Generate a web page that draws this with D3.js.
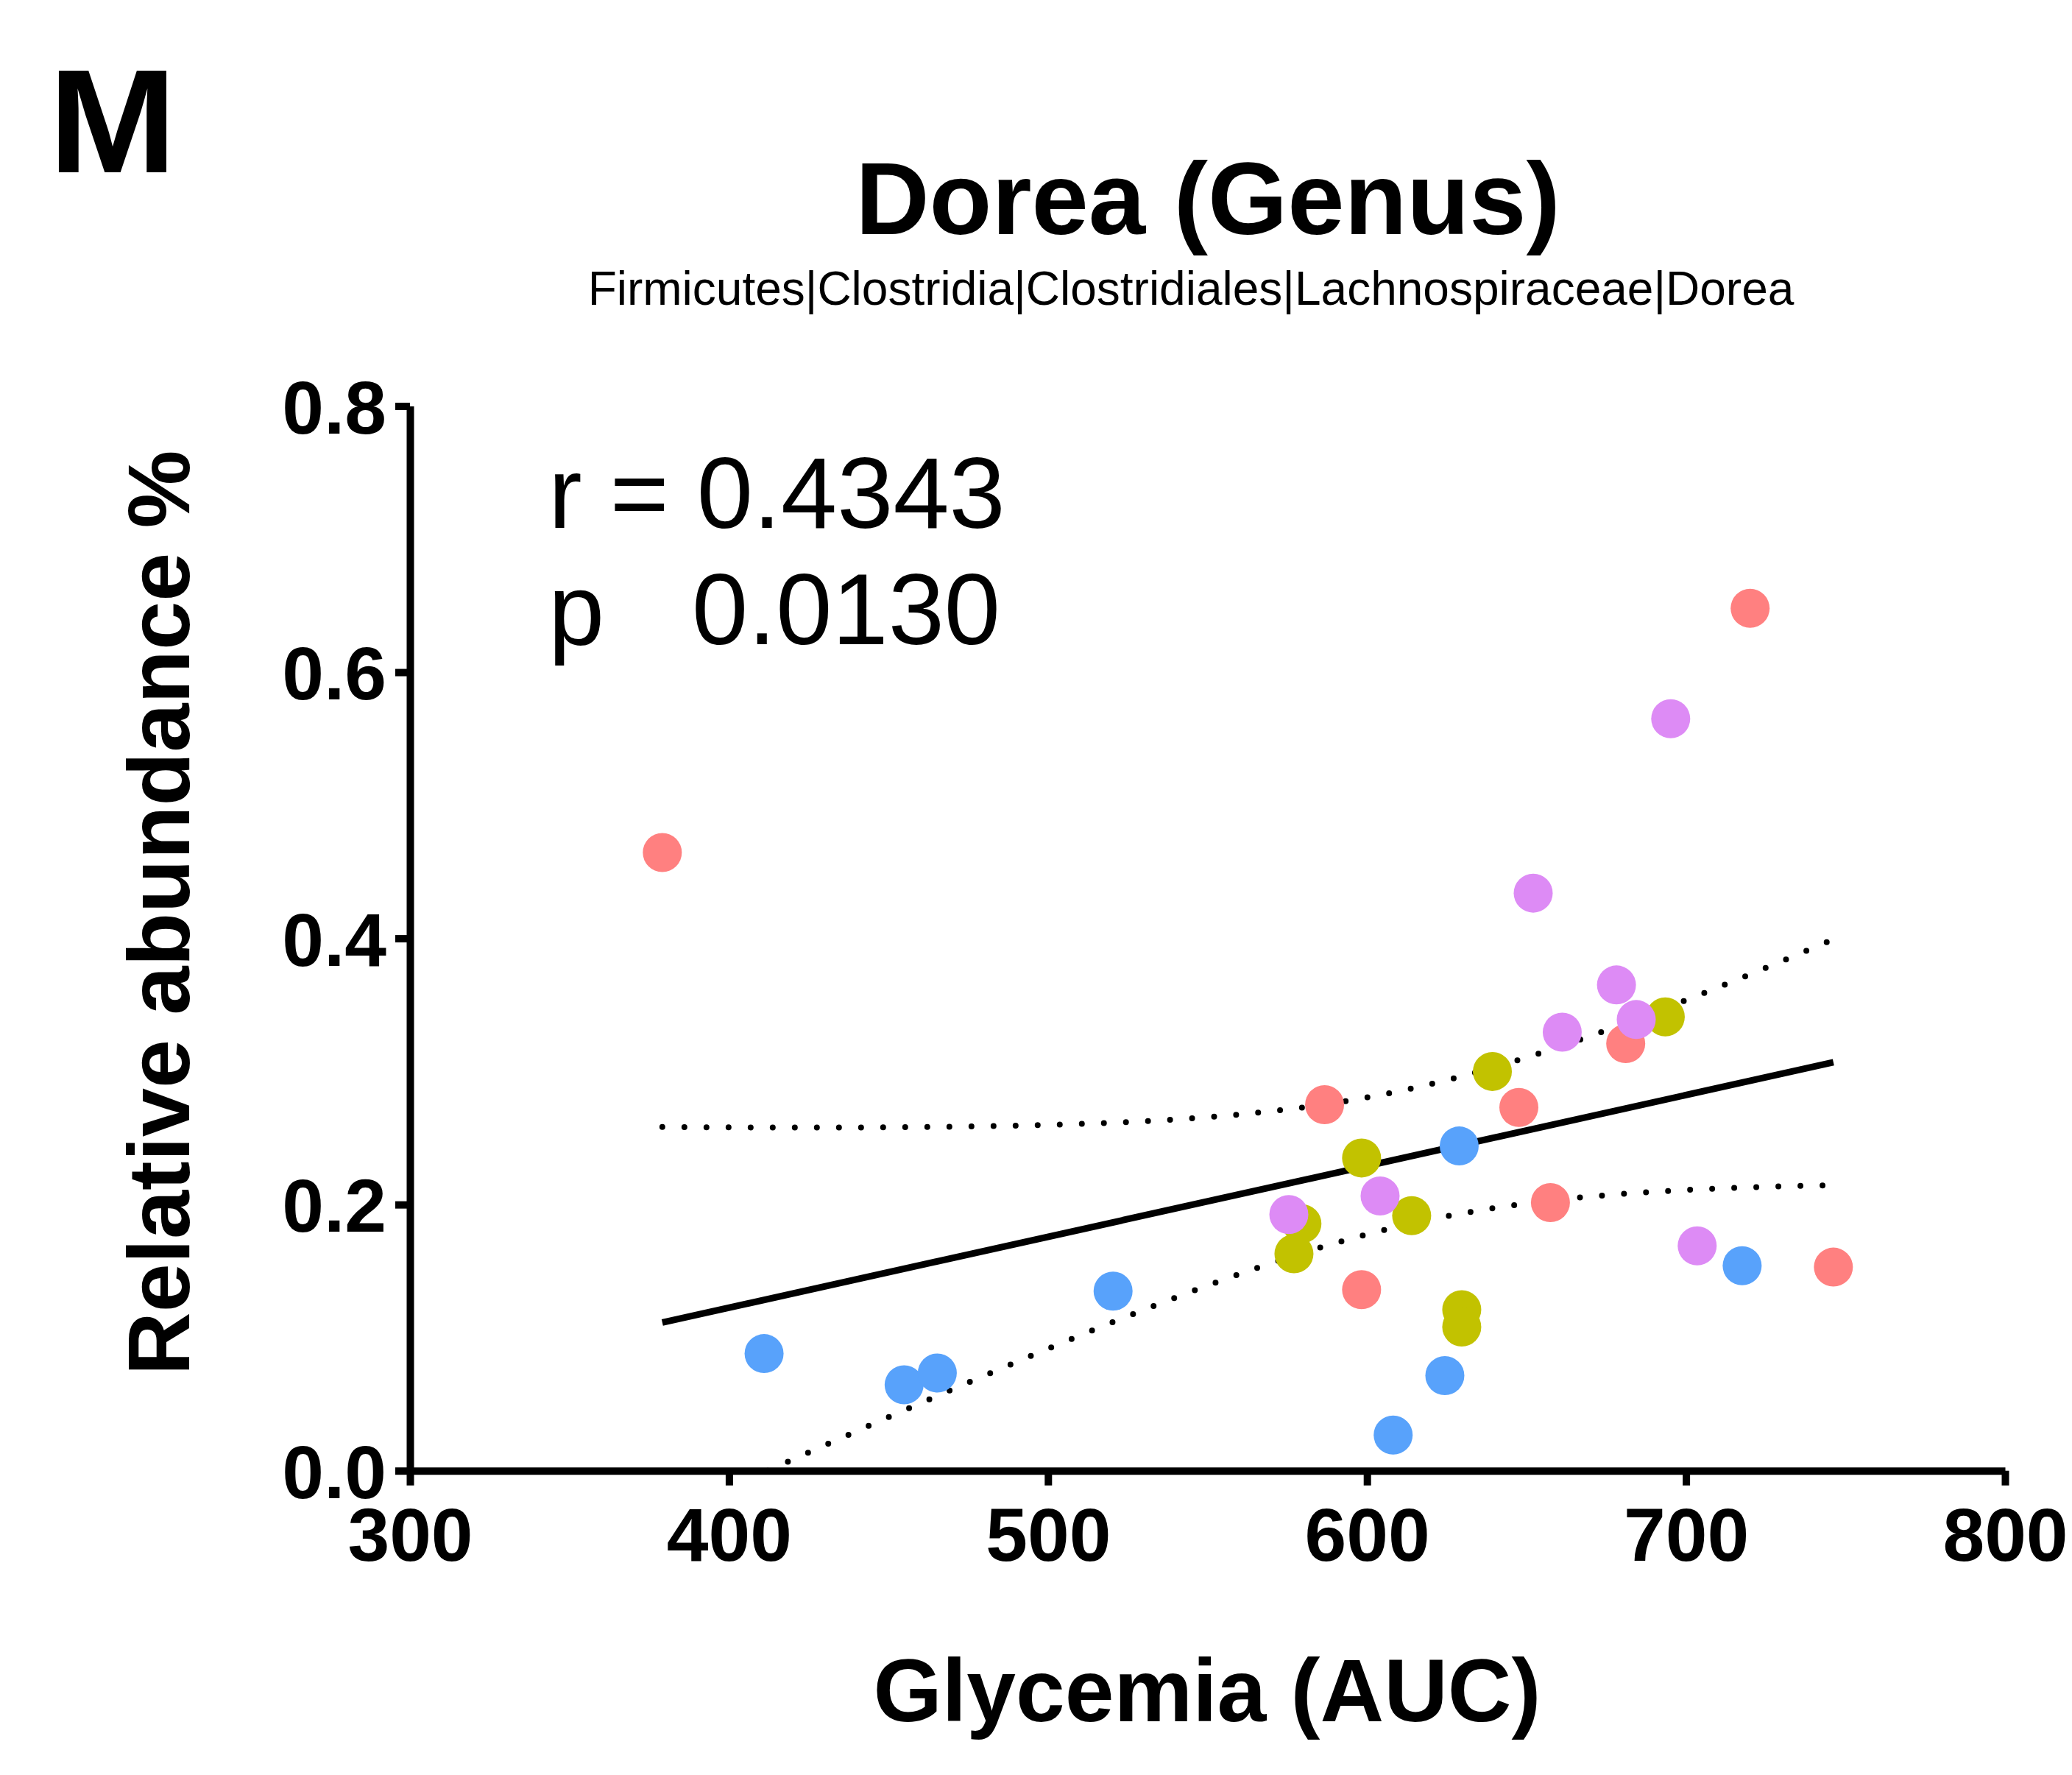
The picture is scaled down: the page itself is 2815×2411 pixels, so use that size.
<!DOCTYPE html>
<html>
<head>
<meta charset="utf-8">
<script src="https://cdn.jsdelivr.net/npm/d3@7"></script>
<style>
  html, body { margin: 0; padding: 0; background: #fff; }
  svg { display: block; }
</style>
</head>
<body>
<svg id="chart" width="2815" height="2411"></svg>
<script>
// Values (Glycemia AUC vs relative abundance %)
const salmonX = [379.1, 720.1, 586.7, 647.6, 681.1, 657.5, 598.3, 746.2];
const salmonY = [0.4645, 0.648, 0.275, 0.273, 0.321, 0.2015, 0.136, 0.153];

const oliveX = [693.5, 639.3, 598.3, 614.0, 579.6, 577.1, 629.7, 629.7];
const oliveY = [0.341, 0.300, 0.235, 0.1916, 0.1856, 0.163, 0.121, 0.108];

const blueX = [628.9, 717.6, 520.4, 411.0, 454.9, 465.3, 624.4, 608.2];
const blueY = [0.244, 0.154, 0.135, 0.088, 0.0645, 0.0734, 0.0715, 0.0268];

const violetX = [695.2, 652.1, 678.2, 661.2, 684.4, 575.5, 604.1, 703.5];
const violetY = [0.565, 0.434, 0.365, 0.3295, 0.339, 0.1925, 0.2065, 0.169];

const xTicks = [300, 400, 500, 600, 700, 800];
const yTicks = [0.0, 0.2, 0.4, 0.6, 0.8];

const groups = [
    { xs: salmonX, ys: salmonY, color: '#ff8080' },
    { xs: oliveX, ys: oliveY, color: '#c2c200' },
    { xs: blueX, ys: blueY, color: '#58a2fb' },
    { xs: violetX, ys: violetY, color: '#dd8bf5' }
];

const svg = d3.select('#chart');
const font = "'Liberation Sans', Arial, sans-serif";

const xScale = d3.scaleLinear().domain([300, 800]).range([557, 2724]);
const yScale = d3.scaleLinear().domain([0, 0.8]).range([1997.7, 551.5]);

// Flatten points
const points = [];
groups.forEach(g => g.xs.forEach((x, i) => points.push({ x: x, y: g.ys[i], color: g.color })));

// Linear regression with 95% confidence band
const n = points.length;
const xMean = d3.mean(points, d => d.x);
const yMean = d3.mean(points, d => d.y);
const sxx = d3.sum(points, d => (d.x - xMean) ** 2);
const sxy = d3.sum(points, d => (d.x - xMean) * (d.y - yMean));
const slope = sxy / sxx;
const intercept = yMean - slope * xMean;
const sse = d3.sum(points, d => (d.y - (intercept + slope * d.x)) ** 2);
const se = Math.sqrt(sse / (n - 2));
const tCrit = 2.042; // t(0.975, df = 30)
const xMin = d3.min(points, d => d.x), xMax = d3.max(points, d => d.x);

const band = d3.range(0, 201).map(i => {
    const x = xMin + (xMax - xMin) * i / 200;
    const fit = intercept + slope * x;
    const half = tCrit * se * Math.sqrt(1 / n + (x - xMean) ** 2 / sxx);
    return { x: x, lo: fit - half, hi: fit + half };
});

// Panel letter
svg.append('text')
    .attr('x', 66).attr('y', 234)
    .attr('textLength', 174).attr('lengthAdjust', 'spacingAndGlyphs')
    .style('font-family', font).style('font-weight', 'bold').style('font-size', '200px')
    .text('M');

// Title
svg.append('text')
    .attr('x', 1641).attr('y', 318)
    .attr('text-anchor', 'middle')
    .style('font-family', font).style('font-weight', 'bold').style('font-size', '139px')
    .text('Dorea (Genus)');

svg.append('text')
    .attr('x', 1618).attr('y', 414)
    .attr('text-anchor', 'middle')
    .style('font-family', font).style('font-size', '64px')
    .text('Firmicutes|Clostridia|Clostridiales|Lachnospiraceae|Dorea');

// Regression lines (under the points)
const line = d3.line().x(d => xScale(d[0])).y(d => yScale(d[1]));

svg.append('path')
    .attr('d', line(band.filter(d => d.hi >= 0).map(d => [d.x, d.hi])))
    .attr('fill', 'none').attr('stroke', '#000')
    .attr('stroke-width', 8).attr('stroke-linecap', 'round')
    .attr('stroke-dasharray', '0 30');

svg.append('path')
    .attr('d', line(band.filter(d => d.lo >= 0).map(d => [d.x, d.lo])))
    .attr('fill', 'none').attr('stroke', '#000')
    .attr('stroke-width', 8).attr('stroke-linecap', 'round')
    .attr('stroke-dasharray', '0 30');

svg.append('path')
    .attr('d', line([[xMin, intercept + slope * xMin], [xMax, intercept + slope * xMax]]))
    .attr('fill', 'none').attr('stroke', '#000').attr('stroke-width', 9);

// Points
svg.append('g')
    .selectAll('circle')
    .data(points)
    .enter()
    .append('circle')
    .attr('cx', d => xScale(d.x))
    .attr('cy', d => yScale(d.y))
    .attr('r', 26.5)
    .style('fill', d => d.color);

// Axes
const xAxis = svg.append('g')
    .attr('transform', 'translate(0,' + yScale(0) + ')')
    .call(d3.axisBottom(xScale).tickValues(xTicks).tickFormat(d3.format('d'))
        .tickSize(20).tickSizeOuter(0).tickPadding(30));

const yAxis = svg.append('g')
    .attr('transform', 'translate(' + xScale(300) + ',0)')
    .call(d3.axisLeft(yScale).tickValues(yTicks).tickFormat(d3.format('.1f'))
        .tickSize(20).tickSizeOuter(0).tickPadding(12));

[xAxis, yAxis].forEach(ax => {
    ax.select('.domain').attr('stroke', '#000').attr('stroke-width', 10);
    ax.selectAll('.tick line').attr('stroke', '#000').attr('stroke-width', 10);
    ax.selectAll('.tick text')
        .attr('fill', '#000')
        .style('font-family', font).style('font-weight', 'bold').style('font-size', '102px');
});
yAxis.selectAll('.tick text').attr('dy', '0.36em');

// Axis titles
svg.append('text')
    .attr('x', 1640).attr('y', 2338)
    .attr('text-anchor', 'middle')
    .style('font-family', font).style('font-weight', 'bold').style('font-size', '120px')
    .text('Glycemia (AUC)');

svg.append('text')
    .attr('text-anchor', 'middle')
    .attr('transform', 'translate(257,1240)rotate(-90)')
    .style('font-family', font).style('font-weight', 'bold').style('font-size', '119px')
    .text('Relative abundance %');

// Correlation annotation
const stats = svg.append('text')
    .style('font-family', font).style('font-size', '137px');
stats.append('tspan').attr('x', 745).attr('y', 717).text('r = 0.4343');
stats.append('tspan').attr('x', 745).attr('y', 875).text('p');
stats.append('tspan').attr('x', 940).attr('y', 875).text('0.0130');
</script>
</body>
</html>
